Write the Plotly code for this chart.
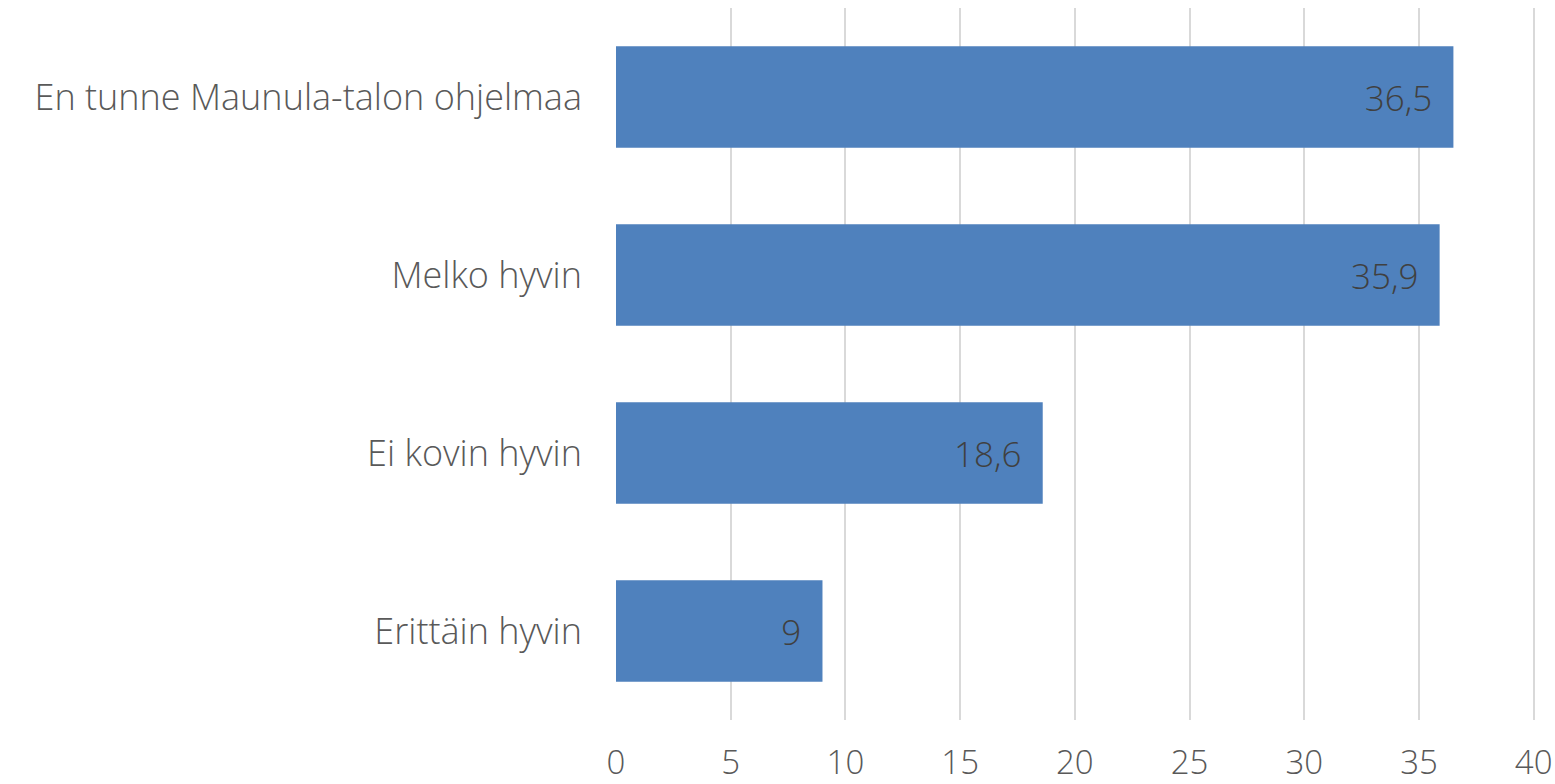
import plotly.graph_objects as go

categories = ["Erittäin hyvin", "Ei kovin hyvin", "Melko hyvin", "En tunne Maunula-talon ohjelmaa"]
values = [9, 18.6, 35.9, 36.5]
labels = ["9", "18,6", "35,9", "36,5"]
x_ticks = [0, 5, 10, 15, 20, 25, 30, 35, 40]

FONT = "Open Sans"

fig = go.Figure(go.Bar(
    y=categories,
    x=values,
    orientation="h",
    marker=dict(color="#4F81BD", line=dict(width=0)),
    text=[l + "\u00a0\u00a0" for l in labels],
    textposition="inside",
    insidetextanchor="end",
    textfont=dict(family=FONT, size=35, color="#404040", weight=300),
    constraintext="none",
    cliponaxis=False,
))

fig.update_layout(
    width=1555, height=784,
    margin=dict(l=616, r=19, t=8, b=64, autoexpand=False),
    paper_bgcolor="white", plot_bgcolor="white",
    bargap=0.43,
    showlegend=False,
    font=dict(family=FONT, color="#595959"),
)
fig.update_xaxes(
    range=[0, 40.1], tickvals=x_ticks, ticktext=[str(v) for v in x_ticks],
    showgrid=True, gridcolor="#D9D9D9", gridwidth=2,
    zeroline=False, showline=False, automargin=False,
    tickfont=dict(family=FONT, size=33, color="#595959", weight=300),
    ticklabelstandoff=20,
)
fig.update_yaxes(
    showgrid=False, zeroline=False, showline=False, automargin=False,
    tickfont=dict(family=FONT, size=36, color="#595959", weight=300),
    ticklabelstandoff=33,
)

# remove the browser's default 8px body margin so the figure fills the window exactly
fig.write_html(
    "out.html",
    config={"displayModeBar": False},
    post_script="document.body.style.margin='0';document.body.style.overflow='hidden';",
)
